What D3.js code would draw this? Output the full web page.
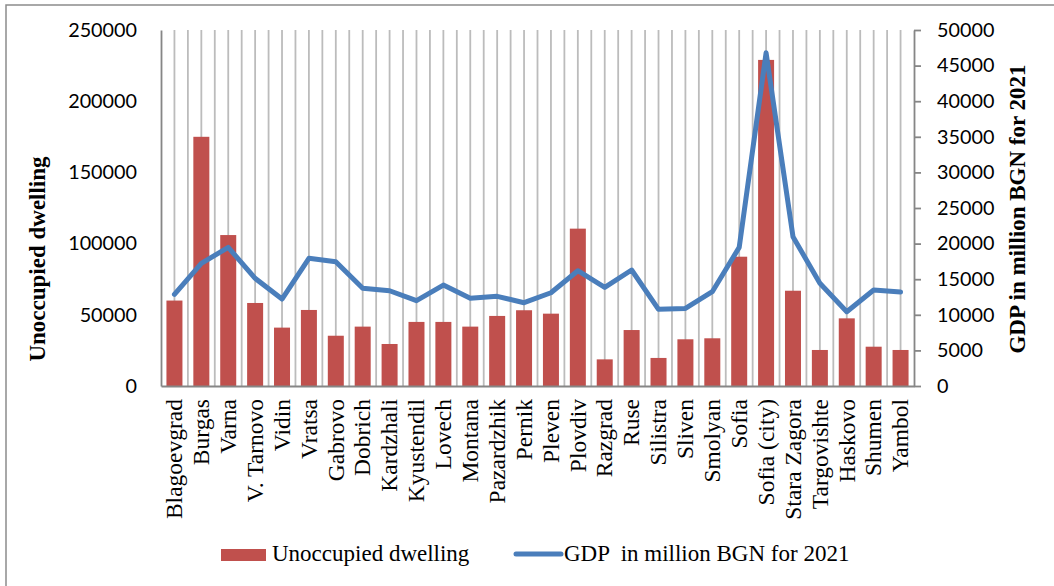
<!DOCTYPE html>
<html>
<head>
<meta charset="utf-8">
<script src="https://cdn.jsdelivr.net/npm/d3@7"></script>
<style>
html,body{margin:0;padding:0;background:#fff;}
svg{display:block;}
</style>
</head>
<body>
<svg id="chart" width="1054" height="586"></svg>
<script>
const categories = ["Blagoevgrad","Burgas","Varna","V. Tarnovo","Vidin","Vratsa","Gabrovo","Dobrich","Kardzhali","Kyustendil","Lovech","Montana","Pazardzhik","Pernik","Pleven","Plovdiv","Razgrad","Ruse","Silistra","Sliven","Smolyan","Sofia","Sofia (city)","Stara Zagora","Targovishte","Haskovo","Shumen","Yambol"];
const unoccupied = [60000,175000,106000,58300,41000,53400,35300,41700,29500,45000,45000,41700,49200,53200,50800,110500,18700,39300,19700,32800,33500,90800,229000,66900,25300,47500,27600,25300];
const gdp = [12870,17230,19470,15120,12210,17930,17450,13720,13380,11980,14180,12310,12590,11700,13100,16190,13850,16290,10770,10900,13240,19470,46800,20970,14420,10430,13480,13200];
const leftTicks = [0,50000,100000,150000,200000,250000];
const rightTicks = [0,5000,10000,15000,20000,25000,30000,35000,40000,45000,50000];
const seriesNames = ["Unoccupied dwelling","GDP  in million BGN for 2021"];
const leftTitle = "Unoccupied dwelling";
const rightTitle = "GDP in million BGN for 2021";

const svg = d3.select("#chart");
const L = 161, R = 914, T = 30, B = 386;
const numFont = "Lato, 'Open Sans', sans-serif";
const serif = "'Liberation Serif', 'Times New Roman', serif";

// border
svg.append("path").attr("d","M6,600 L6,5 L1060,5")
  .attr("fill","none").attr("stroke","#8c8c8c").attr("stroke-width",1.5);

const x = d3.scaleBand().domain(categories).range([L,R]).padding(0);
const yL = d3.scaleLinear().domain([0,250000]).range([B,T]);
const yR = d3.scaleLinear().domain([0,50000]).range([B,T]);
const bw = x.bandwidth();

// vertical gridlines (major at boundaries, minor at centres)
const gridPos = [];
categories.forEach((c,i)=>{ gridPos.push(x(c)); gridPos.push(x(c)+bw/2); });
gridPos.push(R);
svg.append("g").selectAll("line").data(gridPos.slice(1, gridPos.length-1)).join("line")
  .attr("x1",d=>d).attr("x2",d=>d).attr("y1",T).attr("y2",B)
  .attr("stroke","#bcbcbc").attr("stroke-width",1.8);

// bars
const barW = 16;
svg.append("g").selectAll("rect").data(categories).join("rect")
  .attr("x",(c)=>x(c)+bw/2-barW/2)
  .attr("width",barW)
  .attr("y",(c,i)=>yL(unoccupied[i]))
  .attr("height",(c,i)=>B-yL(unoccupied[i]))
  .attr("fill","#c0504d");

// left axis
const gl = svg.append("g").attr("transform",`translate(${L},0)`)
  .call(d3.axisLeft(yL).tickValues(leftTicks).tickSize(0).tickPadding(24).tickFormat(d3.format("d")));
gl.select(".domain").attr("stroke","#868686").attr("stroke-width",1.8);
gl.selectAll("text").attr("font-family",numFont).attr("font-size","19.8px").attr("fill","#000");

// right axis
const gr = svg.append("g").attr("transform",`translate(${R},0)`)
  .call(d3.axisRight(yR).tickValues(rightTicks).tickSize(7).tickSizeOuter(0).tickPadding(16).tickFormat(d3.format("d")));
gr.select(".domain").attr("stroke","#868686").attr("stroke-width",1.8);
gr.selectAll(".tick line").attr("stroke","#868686").attr("stroke-width",1.8);
gr.selectAll("text").attr("font-family",numFont).attr("font-size","19.8px").attr("fill","#000");

// bottom axis
const gb = svg.append("g").attr("transform",`translate(0,${B})`)
  .call(d3.axisBottom(x).tickSize(0).tickSizeOuter(0).tickPadding(0));
gb.select(".domain").attr("stroke","#868686").attr("stroke-width",1.8);
gb.selectAll("text")
  .attr("font-family",serif).attr("font-size","23.5px").attr("fill","#000")
  .attr("transform","rotate(-90)")
  .attr("text-anchor","end")
  .attr("x",-13).attr("y",0).attr("dy","0.33em");

// GDP line
const line = d3.line().x((d,i)=>x(categories[i])+bw/2).y(d=>yR(d));
svg.append("path").datum(gdp).attr("d",line)
  .attr("fill","none").attr("stroke","#4a7ebb").attr("stroke-width",5)
  .attr("stroke-linejoin","round").attr("stroke-linecap","round");

// axis titles
svg.append("text").attr("transform","translate(45,259) rotate(-90)")
  .attr("text-anchor","middle").attr("font-family",serif).attr("font-weight","bold")
  .attr("font-size","23px").text(leftTitle);
svg.append("text").attr("transform","translate(1025,209) rotate(-90)")
  .attr("text-anchor","middle").attr("font-family",serif).attr("font-weight","bold")
  .attr("font-size","23px").text(rightTitle);

// legend
svg.append("rect").attr("x",221).attr("y",549).attr("width",45).attr("height",12).attr("fill","#c0504d");
svg.append("text").attr("x",272).attr("y",561).attr("font-family",serif).attr("font-size","23px")
  .style("white-space","pre").text(seriesNames[0]);
svg.append("line").attr("x1",516).attr("x2",561).attr("y1",554).attr("y2",554)
  .attr("stroke","#4a7ebb").attr("stroke-width",5).attr("stroke-linecap","round");
svg.append("text").attr("x",564).attr("y",561).attr("font-family",serif).attr("font-size","23px")
  .style("white-space","pre").text(seriesNames[1]);
</script>
</body>
</html>
